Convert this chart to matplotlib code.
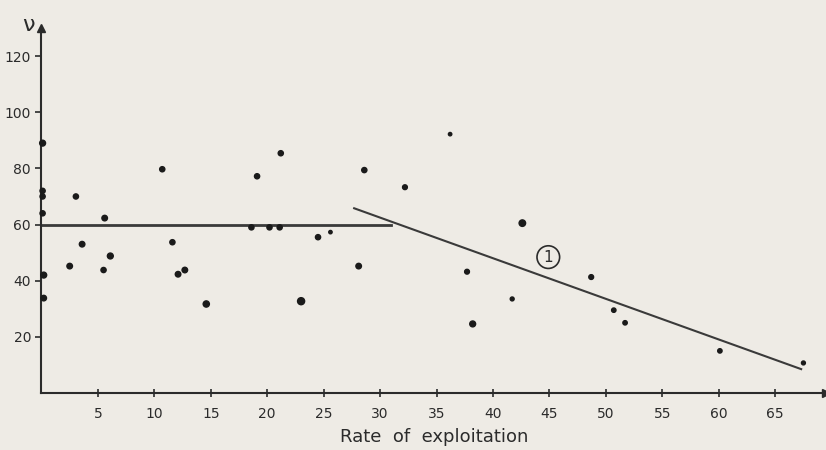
import matplotlib
matplotlib.use("Agg")
import matplotlib.pyplot as plt

# scattered observations (rate of exploitation, nu)
rate = [0.1, 0.1, 0.1, 0.1, 0.2, 0.2, 2.5, 3.05, 3.6, 5.5, 5.6, 6.1,
        10.7, 11.6, 12.1, 12.7, 14.6, 18.6, 19.1, 20.2, 21.1, 21.2,
        23.0, 24.5, 25.6, 28.1, 28.6, 32.2, 36.2, 37.7, 38.2, 41.7,
        42.6, 48.7, 50.7, 51.7, 60.1, 67.5]
nu = [89, 72, 70, 64, 42, 33.8, 45.2, 70, 53, 43.8, 62.3, 48.8,
      79.7, 53.7, 42.3, 43.8, 31.7, 59, 77.2, 59, 59, 85.4,
      32.7, 55.5, 57.3, 45.2, 79.4, 73.3, 92.2, 43.2, 24.6, 33.5,
      60.5, 41.3, 29.5, 25, 15, 10.7]
sizes = [18, 14, 14, 14, 18, 16, 16, 14, 16, 14, 16, 18,
         14, 14, 16, 16, 20, 14, 14, 14, 14, 14,
         26, 14, 6, 16, 14, 12, 6, 12, 18, 8,
         22, 12, 10, 10, 10, 8]

# fitted lines
flat_x = [0, 31.0]
flat_y = [60, 60]
slope_x = [27.7, 67.3]
slope_y = [65.8, 8.5]

BG = "#eeebe5"
INK = "#2b2b2b"

fig = plt.figure(figsize=(8.26, 4.5), dpi=100, facecolor=BG)
ax = fig.add_axes([0.0502, 0.1267, 0.9498, 0.811])
ax.set_facecolor(BG)

ax.scatter(rate, nu, s=sizes, color="#1a1a1a", zorder=3, clip_on=False)
ax.plot(flat_x, flat_y, color="#3a3a3a", lw=2.0, zorder=2)
ax.plot(slope_x, slope_y, color="#3a3a3a", lw=1.5, zorder=2)

ax.text(44.9, 48.4, "1", ha="center", va="center", fontsize=11, color=INK,
        bbox=dict(boxstyle="circle,pad=0.25", fc="none", ec=INK, lw=1.2))

ax.set_xlim(0, 69.5)
ax.set_ylim(0, 130)
ax.set_xticks(range(5, 70, 5))
ax.set_yticks(range(20, 130, 20))
ax.tick_params(axis="both", colors=INK, labelsize=10, width=1.2, length=4)
ax.tick_params(axis="x", direction="inout", length=6, pad=7)

for side in ["top", "right"]:
    ax.spines[side].set_visible(False)
for side in ["left", "bottom"]:
    ax.spines[side].set_color(INK)
    ax.spines[side].set_linewidth(1.5)

# arrow heads on the axes
ax.plot(1, 0, ">", color=INK, ms=6, transform=ax.get_yaxis_transform(), clip_on=False)
ax.plot(0, 1, "^", color=INK, ms=6, transform=ax.get_xaxis_transform(), clip_on=False)

ax.set_xlabel("Rate  of  exploitation", fontsize=13, color=INK, labelpad=5)
fig.text(0.034, 0.945, "ν", fontsize=16, color=INK, ha="center", va="center")

fig.savefig("out.png", dpi=100, facecolor=BG)
